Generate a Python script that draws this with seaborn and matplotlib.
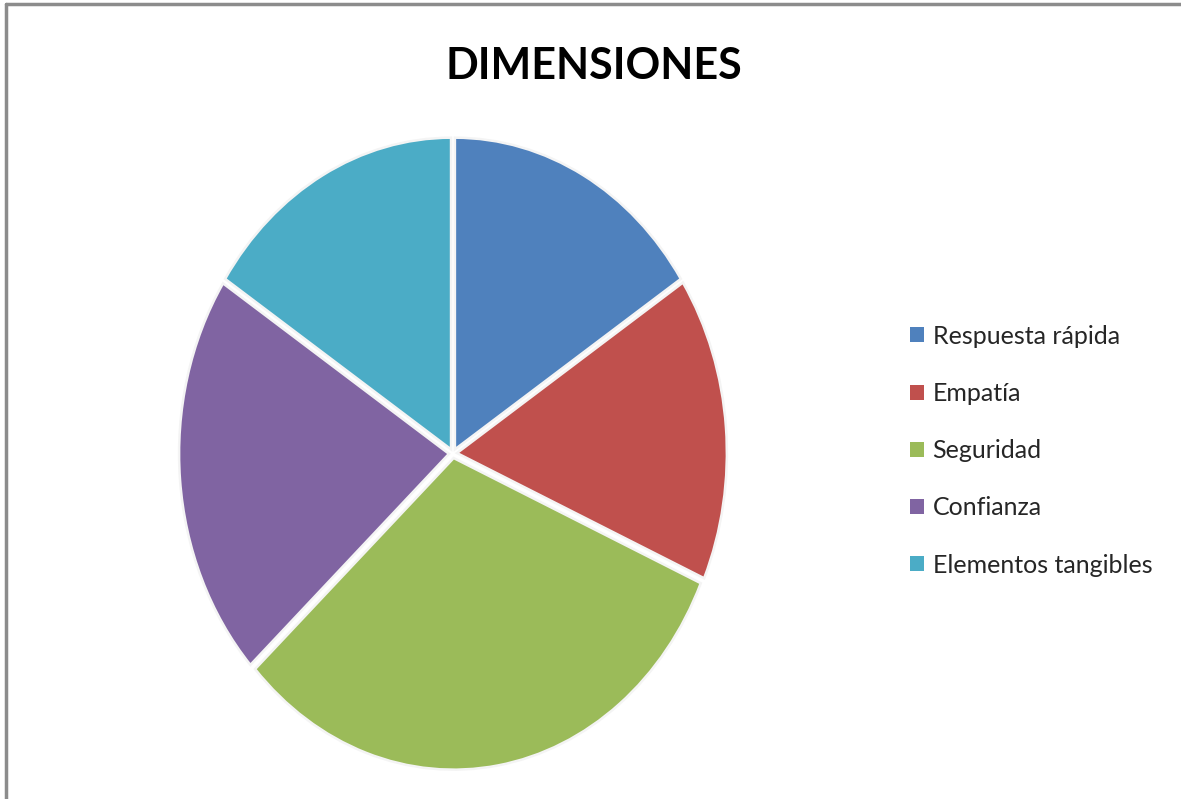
import matplotlib
matplotlib.use("Agg")
import matplotlib.pyplot as plt
import seaborn as sns
from matplotlib.patches import Patch
from matplotlib.lines import Line2D

categories = ["Respuesta rápida", "Empatía", "Seguridad", "Confianza", "Elementos tangibles"]
values = [3, 3, 6, 4, 3]
title = "DIMENSIONES"

sns.set_theme(style="white")
plt.rcParams['font.family'] = ['Lato', 'DejaVu Sans']

colors = ["#4F81BD", "#C0504D", "#9BBB59", "#8064A2", "#4BACC6"]

fig = plt.figure(figsize=(11.81, 7.99), dpi=100)
ax = fig.add_axes([0.1322, 0.0035, 0.5027, 0.858])

wedges, _ = ax.pie(values, colors=colors, startangle=90, counterclock=False,
                   explode=[0.015] * len(values),
                   wedgeprops=dict(edgecolor="#f4f4f4", linewidth=1.8))
ax.set_aspect('auto')
ax.set_xlim(-1.1, 1.1)
ax.set_ylim(-1.1, 1.1)
ax.axis('off')

fig.text(0.503, 0.917, title, ha='center', va='center', fontsize=31,
         fontweight='bold', color='black')

handles = [Patch(facecolor=c, edgecolor='none') for c in colors]
leg = fig.legend(handles, categories, loc='center left', bbox_to_anchor=(0.7706, 0.436),
                 frameon=False, fontsize=18, handlelength=0.55, handleheight=0.55,
                 handletextpad=0.35, labelspacing=1.37, borderaxespad=0, borderpad=0)

# partial border (top and left) as in the reference
fig.add_artist(Line2D([0.005, 1.0], [0.995, 0.995], transform=fig.transFigure,
                      color='#8c8c8c', linewidth=2.5))
fig.add_artist(Line2D([0.0055, 0.0055], [0.0, 0.995], transform=fig.transFigure,
                      color='#8c8c8c', linewidth=2.5))

fig.savefig("out.png", dpi=100, facecolor='white')
